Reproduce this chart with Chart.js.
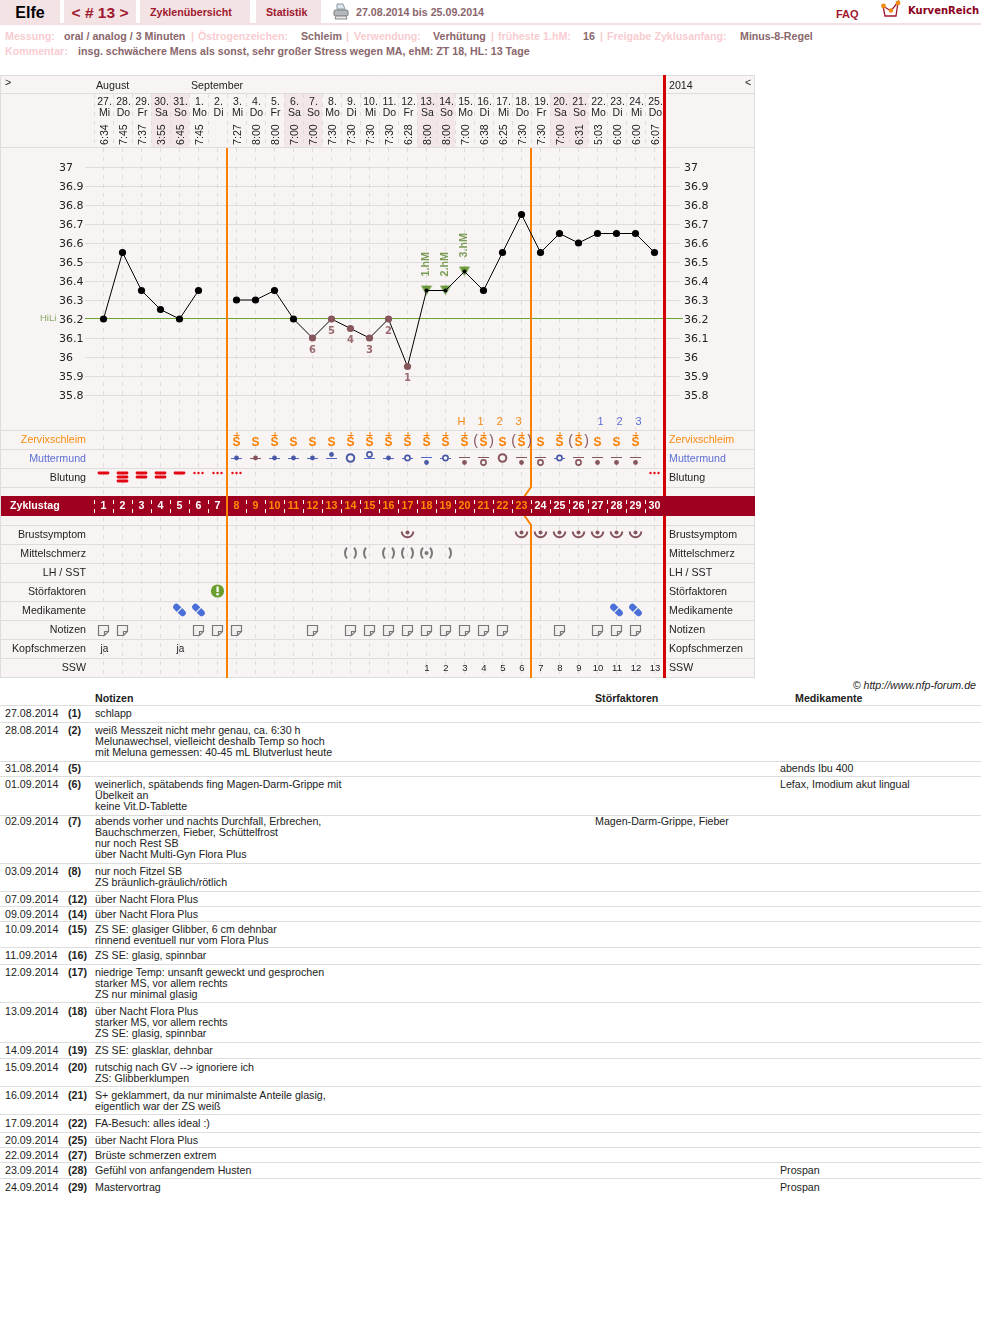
<!DOCTYPE html>
<html lang="de"><head><meta charset="utf-8">
<title>Zyklus 13</title>
<script src="https://cdn.jsdelivr.net/npm/chart.js@4"></script>
<style>
html,body{margin:0;padding:0;background:#fff}
body{width:981px;height:1330px;position:relative;overflow:hidden;font:10.67px/11px "Liberation Sans",Arial,sans-serif;color:#222}
.a{position:absolute;white-space:nowrap}
.tab{position:absolute;top:0;height:23px;background:#f3e3e5;color:#a0182e;font-weight:bold;text-align:center}
.rule{position:absolute;left:0;width:981px;height:2px;top:23px;background:#f3e0e2}
.k{color:#f8ccd0;font-weight:bold}.v{color:#8a666c;font-weight:bold}
.line{position:absolute;left:0;width:981px;height:1px;background:#ddd}
.b{font-weight:bold}
canvas{position:absolute;left:0;top:75px}
</style></head><body>
<div class="tab" style="left:0;width:60px;background:#f3e3e5;color:#000;font-size:16px;line-height:25px">Elfe</div>
<div class="tab" style="left:64px;width:72px;font-size:15.5px;line-height:25px">&lt; # 13 &gt;</div>
<div class="tab" style="left:140px;width:110px"><div class="a" style="left:10px;top:7px;font-size:10.67px">Zyklenübersicht</div></div>
<div class="tab" style="left:256px;width:65px"><div class="a" style="left:10px;top:7px;font-size:10.67px">Statistik</div></div>
<div class="rule"></div>
<svg class="a" style="left:333px;top:3px" width="16" height="17" viewBox="0 0 16 17"><path d="M4 1h6l2 5H4z" fill="#dfe6ec" stroke="#8a9aa5"/><rect x="1" y="7" width="14" height="6" rx="1.5" fill="#b4b8bc" stroke="#777"/><path d="M3 13h10l1 3H2z" fill="#e8e8e8" stroke="#888"/></svg>
<div class="a v" style="left:356px;top:7px">27.08.2014 bis 25.09.2014</div>
<div class="a" style="left:836px;top:9px;color:#a0182e;font-weight:bold;font-size:11px">FAQ</div>
<svg class="a" style="left:880px;top:0" width="22" height="19" viewBox="0 0 22 19"><path d="M3 6l2 10h11l2-14-7 9z" fill="#fff" stroke="#a0182e" stroke-width="1.3"/><circle cx="3.5" cy="6" r="2.4" fill="#f08a10"/><circle cx="11" cy="10.5" r="2.2" fill="#f08a10"/><circle cx="18" cy="3" r="2.4" fill="#f08a10"/></svg>
<div class="a" style="left:908px;top:5px;color:#8b0020;font:bold 10px/11px 'DejaVu Sans'">KurvenReich</div>

<div class="a k" style="left:5px;top:31px">Messung:</div><div class="a v" style="left:64px;top:31px">oral / analog / 3 Minuten</div>
<div class="a k" style="left:191px;top:31px">|</div><div class="a k" style="left:198px;top:31px">Östrogenzeichen:</div><div class="a v" style="left:301px;top:31px">Schleim</div>
<div class="a k" style="left:346px;top:31px">|</div><div class="a k" style="left:354px;top:31px">Verwendung:</div><div class="a v" style="left:433px;top:31px">Verhütung</div>
<div class="a k" style="left:491px;top:31px">|</div><div class="a k" style="left:498px;top:31px">früheste 1.hM:</div><div class="a v" style="left:583px;top:31px">16</div>
<div class="a k" style="left:600px;top:31px">|</div><div class="a k" style="left:607px;top:31px">Freigabe Zyklusanfang:</div><div class="a v" style="left:740px;top:31px">Minus-8-Regel</div>
<div class="a k" style="left:5px;top:46px">Kommentar:</div><div class="a v" style="left:78px;top:46px">insg. schwächere Mens als sonst, sehr großer Stress wegen MA, ehM: ZT 18, HL: 13 Tage</div>

<canvas id="c" width="755" height="604"></canvas>

<div class="a" style="right:5px;top:680px;font-style:italic">© http://www.nfp-forum.de</div>
<div class="a b" style="left:95px;top:693px">Notizen</div>
<div class="a b" style="left:595px;top:693px">Störfaktoren</div>
<div class="a b" style="left:795px;top:693px">Medikamente</div>
<div id="notes"></div>

<script>
// ---------- chart data ----------
const dates = ['27','28','29','30','31','1','2','3','4','5','6','7','8','9','10','11','12','13','14','15','16','17','18','19','20','21','22','23','24','25'];
const weekdays = ['Mi','Do','Fr','Sa','So','Mo','Di','Mi','Do','Fr','Sa','So','Mo','Di','Mi','Do','Fr','Sa','So','Mo','Di','Mi','Do','Fr','Sa','So','Mo','Di','Mi','Do'];
const times = ['6:34','7:45','7:37','3:55','6:45','7:45','','7:27','8:00','8:00','7:00','7:00','7:30','7:30','7:30','7:30','6:28','8:00','8:00','7:00','6:38','6:25','7:30','7:30','7:00','6:31','5:03','6:00','6:00','6:07'];
const temps = [36.2,36.55,36.35,36.25,36.2,36.35,null,36.3,36.3,36.35,36.2,36.1,36.2,36.15,36.1,36.2,35.95,36.35,36.35,36.45,36.35,36.55,36.75,36.55,36.65,36.6,36.65,36.65,36.65,36.55];
const lowNumbers = ['','','','','','','','','','','','6','5','4','3','2','1','','','','','','','','','','','','',''];
const highMarks = ['','','','','','','','','','','','','','','','','','1.hM','2.hM','3.hM','','','','','','','','','',''];
const tempTicks = [37,36.9,36.8,36.7,36.6,36.5,36.4,36.3,36.2,36.1,36,35.9,35.8];
const coverLine = 36.2;
const cycleDays = ['1','2','3','4','5','6','7','8','9','10','11','12','13','14','15','16','17','18','19','20','21','22','23','24','25','26','27','28','29','30'];
const orangeDays = [8,9,10,11,12,13,14,15,16,17,18,19,20,21,22,23];
const peakRow = ['','','','','','','','','','','','','','','','','','','','H','1','2','3','','','','1','2','3',''];
const zervix = ['','','','','','','','S+','S','S+','S','S','S','S+','S+','S+','S+','S+','S+','S+','(S+)','S','(S+)','S','S+','(S+)','S','S','S+',''];
const muttermund = ['','','','','','','','md-b','md-n','md-b','md-b','md-b','hd-b','R-b','hr-b','md-b','mr-b','ld-b','mr-b','ld-n','lr-n','R-n','ld-n','lr-n','mr-b','lr-n','ld-n','ld-n','ld-n',''];
const blutung = ['1','3','2','2','1','d','d','d','','','','','','','','','','','','','','','','','','','','','','d'];
const brust = [0,0,0,0,0,0,0,0,0,0,0,0,0,0,0,0,1,0,0,0,0,0,1,1,1,1,1,1,1,0];
const mittel = ['','','','','','','','','','','','','','()','(','()','()','(o)',')','','','','','','','','','','',''];
const stoer = [0,0,0,0,0,0,1,0,0,0,0,0,0,0,0,0,0,0,0,0,0,0,0,0,0,0,0,0,0,0];
const medi = [0,0,0,0,1,1,0,0,0,0,0,0,0,0,0,0,0,0,0,0,0,0,0,0,0,0,0,1,1,0];
const notiz = [1,1,0,0,0,1,1,1,0,0,0,1,0,1,1,1,1,1,1,1,1,1,0,0,1,0,1,1,1,0];
const kopf = ['ja','','','','ja','','','','','','','','','','','','','','','','','','','','','','','','',''];
const ssw = ['','','','','','','','','','','','','','','','','','1','2','3','4','5','6','7','8','9','10','11','12','13'];
const rowLabels = ['Zervixschleim','Muttermund','Blutung','Brustsymptom','Mittelschmerz','LH / SST','Störfaktoren','Medikamente','Notizen','Kopfschmerzen','SSW'];

// ---------- notes table ----------
const noteRows = [
 ['27.08.2014','(1)',['schlapp'],'',''],
 ['28.08.2014','(2)',['weiß Messzeit nicht mehr genau, ca. 6:30 h','Melunawechsel, vielleicht deshalb Temp so hoch','mit Meluna gemessen: 40-45 mL Blutverlust heute'],'',''],
 ['31.08.2014','(5)',[''],'','abends Ibu 400'],
 ['01.09.2014','(6)',['weinerlich, spätabends fing Magen-Darm-Grippe mit','Übelkeit an','keine Vit.D-Tablette'],'','Lefax, Imodium akut lingual'],
 ['02.09.2014','(7)',['abends vorher und nachts Durchfall, Erbrechen,','Bauchschmerzen, Fieber, Schüttelfrost','nur noch Rest SB','über Nacht Multi-Gyn Flora Plus'],'Magen-Darm-Grippe, Fieber',''],
 ['03.09.2014','(8)',['nur noch Fitzel SB','ZS bräunlich-gräulich/rötlich'],'',''],
 ['07.09.2014','(12)',['über Nacht Flora Plus'],'',''],
 ['09.09.2014','(14)',['über Nacht Flora Plus'],'',''],
 ['10.09.2014','(15)',['ZS SE: glasiger Glibber, 6 cm dehnbar','rinnend eventuell nur vom Flora Plus'],'',''],
 ['11.09.2014','(16)',['ZS SE: glasig, spinnbar'],'',''],
 ['12.09.2014','(17)',['niedrige Temp: unsanft geweckt und gesprochen','starker MS, vor allem rechts','ZS nur minimal glasig'],'',''],
 ['13.09.2014','(18)',['über Nacht Flora Plus','starker MS, vor allem rechts','ZS SE: glasig, spinnbar'],'',''],
 ['14.09.2014','(19)',['ZS SE: glasklar, dehnbar'],'',''],
 ['15.09.2014','(20)',['rutschig nach GV --> ignoriere ich','ZS: Glibberklumpen'],'',''],
 ['16.09.2014','(21)',['S+ geklammert, da nur minimalste Anteile glasig,','eigentlich war der ZS weiß'],'',''],
 ['17.09.2014','(22)',['FA-Besuch: alles ideal :)'],'',''],
 ['20.09.2014','(25)',['über Nacht Flora Plus'],'',''],
 ['22.09.2014','(27)',['Brüste schmerzen extrem'],'',''],
 ['23.09.2014','(28)',['Gefühl von anfangendem Husten'],'','Prospan'],
 ['24.09.2014','(29)',['Mastervortrag'],'','Prospan']
];
const noteLines = [705,722,761,776,815,863,891,906,921,947,964,1002,1042,1058,1086,1114,1132,1147,1162,1178];
const noteText  = [708,725,763,779,816,866,894,909,924,950,967,1006,1045,1062,1090,1118,1135,1150,1165,1182];
const host = document.getElementById('notes');
function addText(left, top, txt, cls){
  const d = document.createElement('div'); d.className = 'a ' + (cls||'');
  d.style.left = left + 'px'; d.style.top = top + 'px'; d.textContent = txt; host.appendChild(d);
}
noteRows.forEach((r,i)=>{
  const l = document.createElement('div'); l.className='line'; l.style.top = noteLines[i]+'px'; host.appendChild(l);
  const t = noteText[i];
  addText(5, t, r[0]); addText(68, t, r[1], 'b');
  r[2].forEach((s,j)=>addText(95, t+j*11, s));
  if (r[3]) addText(595, t, r[3]);
  if (r[4]) addText(780, t, r[4]);
});

// ---------- chart ----------
const OFF = 75;             // canvas top on the page
const ORANGE = '#f98000', RED = '#d40000', WINE = '#a0001f', BROWN = '#85565c', BLUE = '#4f69cc', NAVY='#4a5aa6', GRID = '#dedddd', GREEN = '#6aa52c';
const SANS = '"Liberation Sans",Arial,sans-serif';
const Y = p => p - OFF;
const rowLines = [430,449,468,487,525,544,563,582,601,620,639,658,677];

function txt(ctx,s,x,y,font,color,align){
  ctx.font = font; ctx.fillStyle = color; ctx.textAlign = align||'center'; ctx.textBaseline='middle';
  ctx.fillText(s,x,y);
}
function drawZervix(ctx,code,cx){
  const y = Y(443);
  const plus = code.includes('+'), par = code.includes('(');
  txt(ctx,'S',cx,y,'bold 12px '+SANS,ORANGE);
  if (plus){ ctx.strokeStyle=ORANGE; ctx.lineWidth=1; ctx.beginPath();
    ctx.moveTo(cx-3,Y(435)+.5); ctx.lineTo(cx+3,Y(435)+.5); ctx.moveTo(cx+.5,Y(432)); ctx.lineTo(cx+.5,Y(438)); ctx.stroke(); }
  if (par){ txt(ctx,'(',cx-8,Y(441),'14px '+SANS,BROWN); txt(ctx,')',cx+8,Y(441),'14px '+SANS,BROWN); }
}
function drawMutter(ctx,code,cx){
  const [k,c] = code.split('-');
  const col = c==='b' ? NAVY : BROWN, lineCol = c==='b' ? BLUE : BROWN;
  const kind = k.length===1 ? 'R' : k[1], pos = k.length===1 ? 'm' : k[0];
  const cy = Y(pos==='h'?454.5:pos==='l'?462.5:458);
  if (kind!=='R'){ ctx.strokeStyle=lineCol; ctx.lineWidth=1; ctx.beginPath();
    const ly = Y(pos==='l'?457:458)+.5; ctx.moveTo(cx-5.5,ly); ctx.lineTo(cx+5.5,ly); ctx.stroke(); }
  ctx.beginPath();
  if (kind==='d'){ ctx.arc(cx,cy,2.4,0,7); ctx.fillStyle=col; ctx.fill(); }
  else { ctx.arc(cx,cy,kind==='R'?3.8:2.6,0,7); ctx.fillStyle='#f9f4f4'; ctx.fill();
    ctx.strokeStyle=col; ctx.lineWidth=kind==='R'?2:1.6; ctx.stroke(); }
}
function drawBlut(ctx,code,cx){
  ctx.fillStyle='#e30613';
  const y0 = Y(473);
  if (code==='d'){ [-4,0,4].forEach(d=>{ctx.beginPath();ctx.arc(cx+d,y0,1.2,0,7);ctx.fill();}); return; }
  const n = parseInt(code);
  for (let i=0;i<n;i++){ const y=y0+i*4;
    ctx.beginPath(); ctx.moveTo(cx-4.5,y-1.4); ctx.lineTo(cx+4.5,y-1.4); ctx.arc(cx+4.5,y,1.4,-1.57,1.57); ctx.lineTo(cx-4.5,y+1.4); ctx.arc(cx-4.5,y,1.4,1.57,4.71); ctx.fill(); }
}
function drawBrust(ctx,cx){
  const y=Y(531.5);
  ctx.strokeStyle=BROWN; ctx.lineWidth=2; ctx.beginPath(); ctx.arc(cx,y,5.8,0,Math.PI); ctx.stroke();
  ctx.fillStyle=BROWN; ctx.beginPath(); ctx.arc(cx,y+1,2,0,7); ctx.fill();
}
function drawMittel(ctx,code,cx){
  const y=Y(553), a=Math.PI*.22; ctx.strokeStyle='#777'; ctx.lineWidth=2;
  if (code.includes('(')){ ctx.beginPath(); ctx.arc(cx+3,y,8.5,Math.PI-a,Math.PI+a); ctx.stroke(); }
  if (code.includes(')')){ ctx.beginPath(); ctx.arc(cx-3,y,8.5,-a,a); ctx.stroke(); }
  if (code.includes('o')){ ctx.fillStyle='#777'; ctx.beginPath(); ctx.arc(cx,y,2,0,7); ctx.fill(); }
}
function drawStoer(ctx,cx){
  const y=Y(591); ctx.fillStyle='#6a9e2f'; ctx.beginPath(); ctx.arc(cx,y,6.6,0,7); ctx.fill();
  ctx.fillStyle='#fff'; ctx.fillRect(cx-1,y-4.5,2.2,5.5); ctx.beginPath(); ctx.arc(cx+.1,y+3.2,1.3,0,7); ctx.fill();
}
function drawPill(ctx,cx){
  const y=Y(610); ctx.save(); ctx.translate(cx,y); ctx.rotate(Math.PI/4);
  ctx.strokeStyle='#4a6fd8'; ctx.lineWidth=6.4; ctx.lineCap='round';
  ctx.beginPath(); ctx.moveTo(-4.4,0); ctx.lineTo(4.4,0); ctx.stroke();
  ctx.strokeStyle='#f9f4f4'; ctx.lineWidth=1.2; ctx.lineCap='butt';
  ctx.beginPath(); ctx.moveTo(0,-4); ctx.lineTo(0,4); ctx.stroke(); ctx.restore();
}
function drawNote(ctx,cx){
  const l=Math.round(cx)-6+.5, t=Y(625)+.5, r=l+10, b=t+10;
  ctx.beginPath(); ctx.moveTo(l,t); ctx.lineTo(r,t); ctx.lineTo(r,t+6); ctx.lineTo(l+6,b); ctx.lineTo(l,b); ctx.closePath();
  ctx.fillStyle='#f1f0ef'; ctx.fill(); ctx.strokeStyle='#777'; ctx.lineWidth=1.2; ctx.stroke();
  ctx.beginPath(); ctx.moveTo(r,t+6); ctx.lineTo(l+6,t+6); ctx.lineTo(l+6,b); ctx.stroke();
}
function triangleMarker(){
  const c=document.createElement('canvas'); c.width=12; c.height=12;
  const g=c.getContext('2d'); g.fillStyle='#6a9a3a';
  g.beginPath(); g.moveTo(.5,1); g.lineTo(11.5,1); g.lineTo(6,10.5); g.closePath(); g.fill();
  return c;
}

const panelPlugin = {
  id:'panel',
  beforeDraw(chart){
    const {ctx,scales:{x},chartArea:a} = chart;
    ctx.save();
    ctx.fillStyle='#f9f4f4'; ctx.fillRect(0,0,755,Y(678));
    ctx.fillStyle='#f3e6e7';
    weekdays.forEach((w,i)=>{ if (w==='Sa'||w==='So'){ const c=x.getPixelForValue(i); ctx.fillRect(c-9.5,Y(93),19,a.top-Y(93)-1); }});
    ctx.restore();
  },
  beforeDatasetsDraw(chart){
    const {ctx,scales:{x,y},chartArea:a} = chart;
    ctx.save();
    ctx.strokeStyle=GRID; ctx.lineWidth=1; ctx.beginPath();
    [75,93,147].concat(rowLines).forEach(p=>{ ctx.moveTo(0,Y(p)+.5); ctx.lineTo(755,Y(p)+.5); });
    ctx.moveTo(.5,0); ctx.lineTo(.5,Y(678)); ctx.moveTo(754.5,0); ctx.lineTo(754.5,Y(678)); ctx.stroke();
    ctx.setLineDash([4,5]); ctx.beginPath();
    for(let i=0;i<=30;i++){ const p=Math.round(a.left+i*(a.right-a.left)/30)+.5; ctx.moveTo(p,Y(94)); ctx.lineTo(p,Y(147)); }
    ctx.stroke(); ctx.setLineDash([]);
    // cover line at the scale's HiLi value
    ctx.fillStyle=GREEN; ctx.fillRect(85,Math.round(y.getPixelForValue(coverLine))-1,598,1);
    txt(ctx,'>',5,Y(83),'10.67px '+SANS,'#222','left');
    txt(ctx,'August',96,Y(86),'10.67px '+SANS,'#222','left');
    txt(ctx,'September',191,Y(86),'10.67px '+SANS,'#222','left');
    txt(ctx,'2014',669,Y(86),'10.67px '+SANS,'#222','left');
    txt(ctx,'<',745,Y(83),'10.67px '+SANS,'#222','left');
    txt(ctx,'HiLi',40,Y(318),'9.5px '+SANS,'#88a868','left');
    const ys=[440,459,478,535,554,573,592,611,630,649,668];
    rowLabels.forEach((s,i)=>{
      const col = i===0?'#f98c10':i===1?'#5a70d4':'#222';
      txt(ctx,s,86,Y(ys[i]),'10.67px '+SANS,col,'right');
      txt(ctx,s,669,Y(ys[i]),'10.67px '+SANS,col,'left');
    });
    const bl = a.left + 7*19, bl2 = a.left + 23*19;
    ctx.strokeStyle=ORANGE; ctx.lineWidth=2; ctx.beginPath();
    ctx.moveTo(bl,a.top); ctx.lineTo(bl,a.bottom+1);
    ctx.moveTo(bl2,a.top); ctx.lineTo(bl2,Y(487)); ctx.lineTo(bl2-7,Y(497));
    ctx.moveTo(bl2-7,Y(515)); ctx.lineTo(bl2,Y(525)); ctx.lineTo(bl2,a.bottom+1);
    ctx.stroke();
    ctx.strokeStyle=RED; ctx.lineWidth=3; ctx.beginPath(); ctx.moveTo(a.right+.5,0); ctx.lineTo(a.right+.5,Y(678)); ctx.stroke();
    ctx.fillStyle=WINE; ctx.fillRect(1,Y(496),754,20);
    ctx.strokeStyle=ORANGE; ctx.lineWidth=2; ctx.beginPath(); ctx.moveTo(bl,Y(496)); ctx.lineTo(bl,Y(516)); ctx.stroke();
    ctx.strokeStyle='#fff'; ctx.lineWidth=1; ctx.setLineDash([4,5]); ctx.beginPath();
    for(let i=0;i<30;i++){ if(i===7) continue; const p=Math.round(a.left+i*19)+.5; ctx.moveTo(p,Y(500)); ctx.lineTo(p,Y(514)); }
    ctx.stroke(); ctx.setLineDash([]);
    txt(ctx,'Zyklustag',10,Y(506.5),'bold 10.67px '+SANS,'#fff','left');
    cycleDays.forEach((d,i)=>{ const c=x.getPixelForValue(i);
      txt(ctx,d,c,Y(506.5),'bold 10.67px '+SANS,orangeDays.includes(+d)?'#ff8c00':'#fff'); });
    dates.forEach((_,i)=>{
      const c=x.getPixelForValue(i);
      if (peakRow[i]){ const up=i>24; txt(ctx,peakRow[i],c+(up?3:-3),Y(422),'11px '+SANS,up?'#5a70d4':'#f08a10'); }
      if (zervix[i]) drawZervix(ctx,zervix[i],c);
      if (muttermund[i]) drawMutter(ctx,muttermund[i],c);
      if (blutung[i]) drawBlut(ctx,blutung[i],c);
      if (brust[i]) drawBrust(ctx,c);
      if (mittel[i]) drawMittel(ctx,mittel[i],c);
      if (stoer[i]) drawStoer(ctx,c);
      if (medi[i]) drawPill(ctx,c);
      if (notiz[i]) drawNote(ctx,c);
      if (kopf[i]) txt(ctx,kopf[i],c+1,Y(649.5),'10px '+SANS,'#222');
      if (ssw[i]) txt(ctx,ssw[i],c+.5,Y(668),'9.5px '+SANS,'#222');
    });
    ctx.restore();
  },
  afterDatasetsDraw(chart){
    const {ctx,scales:{x,y}} = chart;
    ctx.save();
    temps.forEach((t,i)=>{
      if (t===null) return;
      const c=x.getPixelForValue(i), p=y.getPixelForValue(t);
      if (lowNumbers[i]) txt(ctx,lowNumbers[i],c,p+12,'bold 10px "DejaVu Sans"','#9a6c72');
      if (highMarks[i]){ ctx.save(); ctx.translate(c,p-14); ctx.rotate(-Math.PI/2);
        txt(ctx,highMarks[i],0,0,'bold 10.67px '+SANS,'#7a9c56','left'); ctx.restore(); }
    });
    ctx.restore();
  }
};

const noPad = s => { s.paddingLeft=s.paddingRight=s.paddingTop=s.paddingBottom=0; };
const isLow = i => !!lowNumbers[i], isHigh = i => !!highMarks[i];
const gridCol = c => c.tick&&c.tick.value===coverLine?'transparent':GRID;
new Chart(document.getElementById('c'),{
  type:'line',
  plugins:[panelPlugin],
  data:{
    labels:dates,
    datasets:[
      {label:'Temperatur',data:temps,order:1,xAxisID:'x',yAxisID:'y',borderColor:'#000',borderWidth:1,tension:0,spanGaps:false,
       pointBorderWidth:0,
       pointBackgroundColor:temps.map((_,i)=>isLow(i)?BROWN:'#000'),
       pointBorderColor:'transparent',
       pointRadius:temps.map((_,i)=>isHigh(i)?2:3.6)},
      {label:'Hochlagen',data:temps.map((t,i)=>isHigh(i)?t:null),order:2,xAxisID:'x',yAxisID:'y',showLine:false,
       pointStyle:triangleMarker(),pointRadius:6,pointBorderWidth:0}
    ]
  },
  options:{
    responsive:false,animation:false,
    layout:{autoPadding:false,padding:{left:59,right:0,top:18,bottom:2}},
    plugins:{legend:{display:false},tooltip:{enabled:false},title:{display:false}},
    scales:{
      x:{type:'category',position:'top',offset:true,weight:1,
         afterFit(s){s.height=25;noPad(s);},
         border:{display:false,dash:[4,5]},
         grid:{color:GRID,lineWidth:1,tickLength:0,drawTicks:false},
         ticks:{autoSkip:false,maxRotation:0,minRotation:0,padding:0,labelOffset:1,color:'#222',
                font:{family:'"Liberation Sans Narrow","Liberation Sans"',size:10.5,lineHeight:1},
                callback(v,i){return [dates[i]+'.',weekdays[i]];}}},
      x2:{type:'category',position:'top',offset:true,labels:times,weight:0,
         afterFit(s){s.height=30;noPad(s);},
         border:{display:false},grid:{display:false,drawTicks:false},
         ticks:{autoSkip:false,minRotation:90,maxRotation:90,padding:3,labelOffset:14,color:'#222',
                font:{family:SANS,size:10.67},
                callback(v,i){return times[i];}}},
      y:{type:'linear',position:'left',min:34.3158,max:37.1,
         afterFit(s){s.width=35;noPad(s);},
         afterBuildTicks(s){s.ticks=tempTicks.map(value=>({value}));},
         border:{display:false},
         grid:{lineWidth:1,tickLength:9,color:gridCol,tickColor:gridCol},
         ticks:{crossAlign:'far',color:'#222',padding:0,labelOffset:1,font:{family:'"DejaVu Sans"',size:11},callback:v=>String(v)}},
      y2:{type:'linear',position:'right',min:34.3158,max:37.1,
         afterFit(s){s.width=91;noPad(s);},
         afterBuildTicks(s){s.ticks=tempTicks.map(value=>({value}));},
         border:{display:false},
         grid:{drawOnChartArea:false,lineWidth:1,tickLength:16,tickColor:gridCol},
         ticks:{color:'#222',padding:4,labelOffset:1,font:{family:'"DejaVu Sans"',size:11},callback:v=>String(v)}}
    }
  }
});
</script>
</body></html>
